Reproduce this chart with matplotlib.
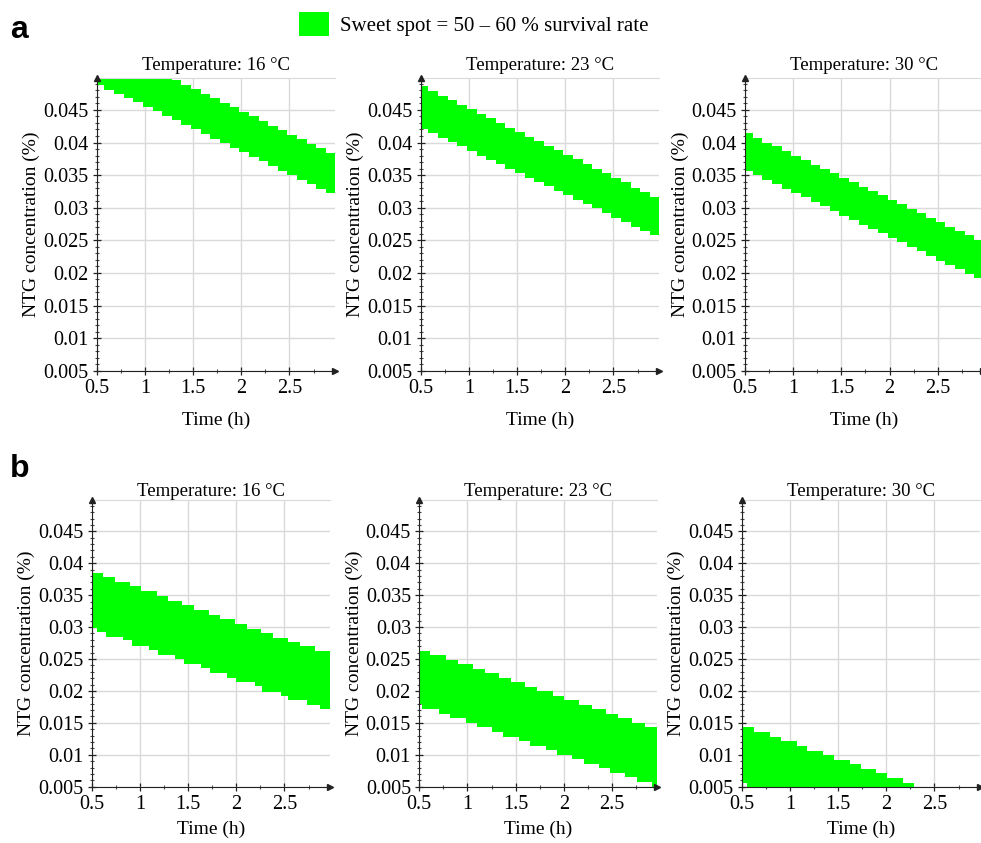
import numpy as np
import matplotlib
matplotlib.use('Agg')
import matplotlib.pyplot as plt
from matplotlib.ticker import MultipleLocator
from matplotlib.patches import Patch

plt.rcParams['font.family'] = ['Liberation Serif', 'DejaVu Serif']

green = '#00ff00'
temps = ['16', '23', '30']

# row a: left edges of the grid columns (h), top/bottom of sweet spot band
a_time = [0.5, 0.58, 0.68, 0.78, 0.88, 0.98, 1.08, 1.18, 1.28, 1.38, 1.48, 1.58, 1.68,
          1.78, 1.88, 1.98, 2.08, 2.18, 2.28, 2.38, 2.48, 2.58, 2.68, 2.78, 2.88]
a16_top = [0.05, 0.05, 0.05, 0.05, 0.05, 0.05, 0.05, 0.05, 0.0496, 0.0489, 0.0482, 0.0475,
           0.0468, 0.0461, 0.0454, 0.0447, 0.0440, 0.0433, 0.0426, 0.0419, 0.0412, 0.0405,
           0.0398, 0.0391, 0.0384]
a16_low = [0.0488, 0.0481, 0.0475, 0.0468, 0.0462, 0.0455, 0.0448, 0.0441, 0.0434, 0.0427,
           0.0420, 0.0413, 0.0406, 0.0399, 0.0392, 0.0385, 0.0378, 0.0371, 0.0364, 0.0357,
           0.0350, 0.0343, 0.0336, 0.0329, 0.0322]
a23_top = [0.0486, 0.0479, 0.0472, 0.0465, 0.0458, 0.0451, 0.0444, 0.0437, 0.0430, 0.0423,
           0.0416, 0.0409, 0.0402, 0.0395, 0.0388, 0.0381, 0.0374, 0.0367, 0.0360, 0.0353,
           0.0346, 0.0339, 0.0331, 0.0324, 0.0317]
a23_low = [0.0421, 0.0414, 0.0407, 0.0401, 0.0394, 0.0387, 0.0380, 0.0373, 0.0367, 0.0360,
           0.0353, 0.0346, 0.0339, 0.0333, 0.0326, 0.0319, 0.0312, 0.0305, 0.0299, 0.0292,
           0.0285, 0.0278, 0.0271, 0.0265, 0.0258]
a30_top = [0.0414, 0.0407, 0.0400, 0.0394, 0.0387, 0.0380, 0.0373, 0.0366, 0.0360, 0.0353,
           0.0346, 0.0339, 0.0332, 0.0326, 0.0319, 0.0312, 0.0305, 0.0298, 0.0292, 0.0285,
           0.0278, 0.0271, 0.0264, 0.0258, 0.0251]
a30_low = [0.0357, 0.0350, 0.0343, 0.0336, 0.0329, 0.0323, 0.0316, 0.0309, 0.0302, 0.0295,
           0.0288, 0.0281, 0.0274, 0.0267, 0.0261, 0.0254, 0.0247, 0.0240, 0.0233, 0.0226,
           0.0219, 0.0212, 0.0206, 0.0199, 0.0192]

# row b: step edges read separately for top and bottom boundary
b16_top_t = [0.5, 0.62, 0.74, 0.9, 1.01, 1.18, 1.29, 1.44, 1.56, 1.72, 1.83, 1.99, 2.11,
             2.26, 2.38, 2.54, 2.66, 2.82]
b16_top = [0.0385, 0.0379, 0.0371, 0.0364, 0.0356, 0.0349, 0.0341, 0.0334, 0.0326, 0.0319,
           0.0312, 0.0305, 0.0297, 0.0290, 0.0283, 0.0276, 0.0270, 0.0263]
b16_low_t = [0.5, 0.55, 0.65, 0.82, 0.92, 1.09, 1.19, 1.36, 1.46, 1.63, 1.73, 1.9, 2.0,
             2.19, 2.27, 2.46, 2.54, 2.73, 2.87]
b16_low = [0.0299, 0.0293, 0.0285, 0.0279, 0.0271, 0.0264, 0.0257, 0.0250, 0.0242, 0.0236,
           0.0228, 0.0221, 0.0214, 0.0207, 0.0199, 0.0192, 0.0185, 0.0178, 0.0171]
b23_top_t = [0.5, 0.61, 0.78, 0.9, 1.06, 1.18, 1.33, 1.45, 1.6, 1.72, 1.89, 2.0, 2.16,
             2.29, 2.44, 2.56, 2.71, 2.84]
b23_top = [0.0263, 0.0256, 0.0249, 0.0242, 0.0234, 0.0228, 0.0221, 0.0214, 0.0206, 0.0200,
           0.0192, 0.0185, 0.0178, 0.0171, 0.0164, 0.0157, 0.0150, 0.0143]
b23_low_t = [0.5, 0.53, 0.7, 0.82, 0.98, 1.1, 1.25, 1.37, 1.53, 1.65, 1.81, 1.93, 2.08,
             2.21, 2.36, 2.48, 2.63, 2.76, 2.91]
b23_low = [0.0180, 0.0171, 0.0164, 0.0157, 0.0150, 0.0143, 0.0136, 0.0128, 0.0122, 0.0114,
           0.0107, 0.0100, 0.0093, 0.0086, 0.0079, 0.0072, 0.0065, 0.0058, 0.0050]
b30_top_t = [0.5, 0.63, 0.79, 0.91, 1.07, 1.18, 1.34, 1.46, 1.62, 1.74, 1.89, 2.01, 2.17]
b30_top = [0.0143, 0.0135, 0.0128, 0.0121, 0.0114, 0.0106, 0.0100, 0.0092, 0.0085, 0.0078,
           0.0071, 0.0064, 0.0056]
b30_low_t = [0.5, 0.55]
b30_low = [0.0056, 0.005]

xmax = 2.97
ends = [[xmax, xmax, xmax], [xmax, xmax, 2.29]]
bands = [
    [(a_time, a16_top, a_time, a16_low), (a_time, a23_top, a_time, a23_low),
     (a_time, a30_top, a_time, a30_low)],
    [(b16_top_t, b16_top, b16_low_t, b16_low), (b23_top_t, b23_top, b23_low_t, b23_low),
     (b30_top_t, b30_top, b30_low_t, b30_low)],
]


def stairs(t, y, t_end):
    xs = np.repeat(np.append(t, t_end), 2)[1:-1]
    ys = np.repeat(y, 2)
    return xs, ys


W, H = 981, 843
fig = plt.figure(figsize=(W / 100, H / 100), dpi=100)

# axes positions in pixels: (left, top, bottom)
lefts = [[96.7, 420.7, 745.0], [91.7, 419.3, 741.7]]
tops = [78.0, 500.0]
bottoms = [370.7, 786.7]
width_px = 238

for r in range(2):
    for c in range(3):
        l = lefts[r][c]
        ax = fig.add_axes([l / W, 1 - bottoms[r] / H, width_px / W, (bottoms[r] - tops[r]) / H])
        tt, ty, lt, ly = bands[r][c]
        xt, yt = stairs(tt, ty, ends[r][c])
        xl, yl = stairs(lt, ly, ends[r][c])
        ax.fill(np.concatenate([xt, xl[::-1]]), np.concatenate([yt, yl[::-1]]),
                color=green, lw=0, zorder=2)
        ax.set_xlim(0.5, xmax)
        ax.set_ylim(0.005, 0.0499)

        yt_major = [0.005, 0.01, 0.015, 0.02, 0.025, 0.03, 0.035, 0.04, 0.045]
        xt_major = [0.5, 1, 1.5, 2, 2.5]
        ax.set_yticks(yt_major)
        ax.set_yticklabels([f'{v:g}' for v in yt_major])
        ax.set_xticks(xt_major)
        ax.set_xticklabels([f'{v:g}' for v in xt_major])
        ax.yaxis.set_minor_locator(MultipleLocator(0.001))
        ax.xaxis.set_minor_locator(MultipleLocator(0.25))
        ax.tick_params(which='major', direction='inout', length=6, width=0.9,
                       labelsize=14.5, pad=3, colors='#222222', labelcolor='black')
        ax.tick_params(which='minor', direction='inout', length=3, width=0.8, colors='#444444')

        ax.grid(True, which='major', color='#dadada', lw=1.0)
        ax.set_axisbelow(True)
        ax.spines['right'].set_visible(False)
        ax.spines['top'].set_color('#dadada')
        ax.spines['left'].set_color('#222222')
        ax.spines['bottom'].set_color('#222222')
        ax.spines['left'].set_zorder(3)
        ax.spines['bottom'].set_zorder(3)
        ax.plot(0, 1, '^', color='#222222', ms=5, transform=ax.transAxes, clip_on=False, zorder=4)
        ax.plot(1, 0, '>', color='#222222', ms=5, transform=ax.transAxes, clip_on=False, zorder=4)

        ax.set_ylabel('NTG concentration (%)', fontsize=14, labelpad=2)
        ax.set_xlabel('Time (h)', fontsize=14, labelpad=10 if r == 0 else 5)
        ax.set_title(f'Temperature: {temps[c]} °C', fontsize=13.5, pad=6 if r == 0 else 2)

fig.text(10 / W, 1 - 38 / H, 'a', fontsize=23, fontweight='bold',
         family=['Liberation Sans', 'DejaVu Sans'], va='baseline')
fig.text(10 / W, 1 - 477 / H, 'b', fontsize=23, fontweight='bold',
         family=['Liberation Sans', 'DejaVu Sans'], va='baseline')

fig.legend(handles=[Patch(facecolor=green, edgecolor='none')],
           labels=['Sweet spot = 50 – 60 % survival rate'],
           loc='center', bbox_to_anchor=(474 / W, 1 - 24 / H), frameon=False,
           fontsize=15, handlelength=1.4, handleheight=1.4, handletextpad=0.55,
           borderpad=0, borderaxespad=0)

fig.savefig('out.png', dpi=100)
